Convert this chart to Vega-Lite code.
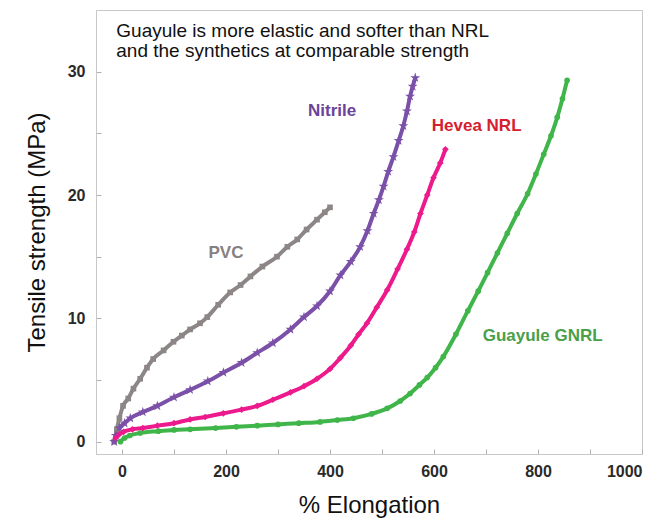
{
  "$schema": "https://vega.github.io/schema/vega-lite/v6.json",
  "width": 546,
  "height": 444,
  "autosize": {"type": "none"},
  "padding": {"left": 96, "top": 10, "right": 17, "bottom": 67},
  "background": "white",
  "config": {
    "view": {"stroke": "#c8c8c8", "strokeWidth": 1},
    "font": "Liberation Sans"
  },
  "datasets": {
    "curves": [
      {"material": "PVC", "x": -15, "y": 0.0},
      {"material": "PVC", "x": -10, "y": 1.0},
      {"material": "PVC", "x": -5, "y": 1.9},
      {"material": "PVC", "x": 2, "y": 2.9},
      {"material": "PVC", "x": 12, "y": 3.5},
      {"material": "PVC", "x": 22, "y": 4.3},
      {"material": "PVC", "x": 35, "y": 5.1},
      {"material": "PVC", "x": 48, "y": 6.0},
      {"material": "PVC", "x": 60, "y": 6.7},
      {"material": "PVC", "x": 80, "y": 7.4},
      {"material": "PVC", "x": 99, "y": 8.1},
      {"material": "PVC", "x": 115, "y": 8.6},
      {"material": "PVC", "x": 131, "y": 9.1},
      {"material": "PVC", "x": 150, "y": 9.6},
      {"material": "PVC", "x": 164, "y": 10.1},
      {"material": "PVC", "x": 185, "y": 11.1},
      {"material": "PVC", "x": 208, "y": 12.1},
      {"material": "PVC", "x": 228, "y": 12.7},
      {"material": "PVC", "x": 247, "y": 13.4},
      {"material": "PVC", "x": 270, "y": 14.2},
      {"material": "PVC", "x": 298, "y": 15.0},
      {"material": "PVC", "x": 318, "y": 15.8},
      {"material": "PVC", "x": 337, "y": 16.4},
      {"material": "PVC", "x": 355, "y": 17.2},
      {"material": "PVC", "x": 375, "y": 18.0},
      {"material": "PVC", "x": 390, "y": 18.6},
      {"material": "PVC", "x": 400, "y": 19.0},
      {"material": "Nitrile", "x": -15, "y": 0.0},
      {"material": "Nitrile", "x": -12, "y": 0.5},
      {"material": "Nitrile", "x": -5, "y": 1.1},
      {"material": "Nitrile", "x": 5, "y": 1.5},
      {"material": "Nitrile", "x": 16, "y": 1.9},
      {"material": "Nitrile", "x": 40, "y": 2.4},
      {"material": "Nitrile", "x": 68, "y": 2.9},
      {"material": "Nitrile", "x": 100, "y": 3.6},
      {"material": "Nitrile", "x": 131, "y": 4.2},
      {"material": "Nitrile", "x": 165, "y": 4.9},
      {"material": "Nitrile", "x": 195, "y": 5.6},
      {"material": "Nitrile", "x": 230, "y": 6.4},
      {"material": "Nitrile", "x": 260, "y": 7.2},
      {"material": "Nitrile", "x": 290, "y": 8.0},
      {"material": "Nitrile", "x": 324, "y": 9.1},
      {"material": "Nitrile", "x": 350, "y": 10.1},
      {"material": "Nitrile", "x": 375, "y": 11.0},
      {"material": "Nitrile", "x": 400, "y": 12.2},
      {"material": "Nitrile", "x": 420, "y": 13.5},
      {"material": "Nitrile", "x": 440, "y": 14.6},
      {"material": "Nitrile", "x": 458, "y": 15.8},
      {"material": "Nitrile", "x": 472, "y": 17.1},
      {"material": "Nitrile", "x": 484, "y": 18.5},
      {"material": "Nitrile", "x": 494, "y": 19.6},
      {"material": "Nitrile", "x": 503, "y": 20.7},
      {"material": "Nitrile", "x": 512, "y": 21.9},
      {"material": "Nitrile", "x": 522, "y": 23.1},
      {"material": "Nitrile", "x": 532, "y": 24.4},
      {"material": "Nitrile", "x": 541, "y": 25.6},
      {"material": "Nitrile", "x": 548, "y": 26.8},
      {"material": "Nitrile", "x": 554, "y": 28.0},
      {"material": "Nitrile", "x": 559, "y": 28.8},
      {"material": "Nitrile", "x": 564, "y": 29.5},
      {"material": "Hevea NRL", "x": -12, "y": 0.3},
      {"material": "Hevea NRL", "x": -5, "y": 0.6},
      {"material": "Hevea NRL", "x": 3, "y": 0.8},
      {"material": "Hevea NRL", "x": 20, "y": 1.0},
      {"material": "Hevea NRL", "x": 40, "y": 1.1},
      {"material": "Hevea NRL", "x": 68, "y": 1.3},
      {"material": "Hevea NRL", "x": 100, "y": 1.5},
      {"material": "Hevea NRL", "x": 131, "y": 1.8},
      {"material": "Hevea NRL", "x": 160, "y": 2.0},
      {"material": "Hevea NRL", "x": 195, "y": 2.3},
      {"material": "Hevea NRL", "x": 230, "y": 2.6},
      {"material": "Hevea NRL", "x": 260, "y": 2.9},
      {"material": "Hevea NRL", "x": 290, "y": 3.4},
      {"material": "Hevea NRL", "x": 324, "y": 4.0},
      {"material": "Hevea NRL", "x": 350, "y": 4.5},
      {"material": "Hevea NRL", "x": 375, "y": 5.1},
      {"material": "Hevea NRL", "x": 400, "y": 5.9},
      {"material": "Hevea NRL", "x": 420, "y": 6.8},
      {"material": "Hevea NRL", "x": 440, "y": 7.8},
      {"material": "Hevea NRL", "x": 455, "y": 8.7},
      {"material": "Hevea NRL", "x": 471, "y": 9.6},
      {"material": "Hevea NRL", "x": 490, "y": 10.9},
      {"material": "Hevea NRL", "x": 510, "y": 12.3},
      {"material": "Hevea NRL", "x": 530, "y": 14.0},
      {"material": "Hevea NRL", "x": 548, "y": 15.6},
      {"material": "Hevea NRL", "x": 562, "y": 17.0},
      {"material": "Hevea NRL", "x": 574, "y": 18.5},
      {"material": "Hevea NRL", "x": 587, "y": 20.0},
      {"material": "Hevea NRL", "x": 599, "y": 21.4},
      {"material": "Hevea NRL", "x": 612, "y": 22.6},
      {"material": "Hevea NRL", "x": 622, "y": 23.7},
      {"material": "Guayule GNRL", "x": -3, "y": 0.0},
      {"material": "Guayule GNRL", "x": 5, "y": 0.3},
      {"material": "Guayule GNRL", "x": 15, "y": 0.5},
      {"material": "Guayule GNRL", "x": 35, "y": 0.7},
      {"material": "Guayule GNRL", "x": 70, "y": 0.85},
      {"material": "Guayule GNRL", "x": 100, "y": 0.95},
      {"material": "Guayule GNRL", "x": 131, "y": 1.0},
      {"material": "Guayule GNRL", "x": 180, "y": 1.1},
      {"material": "Guayule GNRL", "x": 220, "y": 1.2},
      {"material": "Guayule GNRL", "x": 260, "y": 1.3},
      {"material": "Guayule GNRL", "x": 300, "y": 1.4},
      {"material": "Guayule GNRL", "x": 340, "y": 1.5},
      {"material": "Guayule GNRL", "x": 381, "y": 1.6},
      {"material": "Guayule GNRL", "x": 414, "y": 1.75},
      {"material": "Guayule GNRL", "x": 445, "y": 1.9},
      {"material": "Guayule GNRL", "x": 480, "y": 2.25},
      {"material": "Guayule GNRL", "x": 510, "y": 2.7},
      {"material": "Guayule GNRL", "x": 535, "y": 3.3},
      {"material": "Guayule GNRL", "x": 554, "y": 3.9},
      {"material": "Guayule GNRL", "x": 572, "y": 4.6},
      {"material": "Guayule GNRL", "x": 587, "y": 5.2},
      {"material": "Guayule GNRL", "x": 603, "y": 6.0},
      {"material": "Guayule GNRL", "x": 618, "y": 6.9},
      {"material": "Guayule GNRL", "x": 642, "y": 8.7},
      {"material": "Guayule GNRL", "x": 665, "y": 10.6},
      {"material": "Guayule GNRL", "x": 685, "y": 12.2},
      {"material": "Guayule GNRL", "x": 703, "y": 13.7},
      {"material": "Guayule GNRL", "x": 722, "y": 15.3},
      {"material": "Guayule GNRL", "x": 741, "y": 16.9},
      {"material": "Guayule GNRL", "x": 760, "y": 18.5},
      {"material": "Guayule GNRL", "x": 780, "y": 20.1},
      {"material": "Guayule GNRL", "x": 796, "y": 21.7},
      {"material": "Guayule GNRL", "x": 811, "y": 23.3},
      {"material": "Guayule GNRL", "x": 825, "y": 24.8},
      {"material": "Guayule GNRL", "x": 837, "y": 26.3},
      {"material": "Guayule GNRL", "x": 847, "y": 27.8},
      {"material": "Guayule GNRL", "x": 856, "y": 29.3}
    ],
    "labels": [
      {"series": "PVC", "x": 200, "y": 15.3, "text": "PVC"},
      {"series": "Nitrile", "x": 404, "y": 26.8, "text": "Nitrile"},
      {"series": "Hevea NRL", "x": 682, "y": 25.6, "text": "Hevea NRL"},
      {"series": "Guayule GNRL", "x": 809, "y": 8.6, "text": "Guayule GNRL"}
    ],
    "notes": [
      {"x": -11, "y": 32.84, "text": "Guayule is more elastic and softer than NRL"},
      {"x": -11, "y": 31.22, "text": "and the synthetics at comparable strength"}
    ]
  },
  "layer": [
    {
      "data": {"name": "curves"},
      "mark": {"type": "line", "strokeWidth": 4, "interpolate": "monotone", "clip": true},
      "encoding": {
        "x": {
          "field": "x", "type": "quantitative",
          "scale": {"domain": [-50, 1000], "nice": false, "zero": false},
          "axis": {
            "title": "% Elongation",
            "values": [0, 100, 200, 300, 400, 500, 600, 700, 800, 900, 1000],
            "format": "d",
            "labelExpr": "datum.value % 200 == 0 ? datum.label : ''",
            "grid": false,
            "domainColor": "#c8c8c8",
            "tickColor": "#b0b0b0",
            "tickSize": -5,
            "labelPadding": 14,
            "labelFont": "Liberation Sans",
            "labelFontWeight": "bold",
            "labelFontSize": 16,
            "labelColor": "#2a2a2a",
            "titleFont": "Liberation Sans",
            "titleFontWeight": "normal",
            "titleFontSize": 24,
            "titleColor": "#111111",
            "titlePadding": 14
          }
        },
        "y": {
          "field": "y", "type": "quantitative",
          "scale": {"domain": [-1, 35], "nice": false, "zero": false},
          "axis": {
            "title": "Tensile strength (MPa)",
            "values": [0, 5, 10, 15, 20, 25, 30],
            "labelExpr": "datum.value % 10 == 0 ? datum.label : ''",
            "grid": false,
            "domainColor": "#c8c8c8",
            "tickColor": "#b0b0b0",
            "tickSize": -5,
            "labelPadding": 16,
            "labelFont": "Liberation Sans",
            "labelFontWeight": "bold",
            "labelFontSize": 16,
            "labelColor": "#2a2a2a",
            "titleFont": "Liberation Sans",
            "titleFontWeight": "normal",
            "titleFontSize": 24,
            "titleColor": "#111111",
            "titlePadding": 18
          }
        },
        "color": {
          "field": "material", "type": "nominal",
          "scale": {
            "domain": ["PVC", "Nitrile", "Hevea NRL", "Guayule GNRL"],
            "range": ["#8d8686", "#7b50a8", "#ec1a8c", "#3fb54a"]
          },
          "legend": null
        }
      }
    },
    {
      "data": {"name": "curves"},
      "transform": [{"filter": "datum.material === 'PVC'"}],
      "mark": {"type": "point", "filled": true, "opacity": 1, "shape": "square", "size": 32, "color": "#8d8686"},
      "encoding": {
        "x": {"field": "x", "type": "quantitative"},
        "y": {"field": "y", "type": "quantitative"}
      }
    },
    {
      "data": {"name": "curves"},
      "transform": [{"filter": "datum.material === 'Nitrile'"}],
      "mark": {"type": "point", "filled": true, "opacity": 1, "shape": "M0,-1L0.2245,-0.309L0.951,-0.309L0.363,0.118L0.588,0.809L0,0.382L-0.588,0.809L-0.363,0.118L-0.951,-0.309L-0.2245,-0.309Z", "size": 110, "color": "#7b50a8"},
      "encoding": {
        "x": {"field": "x", "type": "quantitative"},
        "y": {"field": "y", "type": "quantitative"}
      }
    },
    {
      "data": {"name": "curves"},
      "transform": [{"filter": "datum.material === 'Hevea NRL'"}],
      "mark": {"type": "point", "filled": true, "opacity": 1, "shape": "diamond", "size": 45, "color": "#ec1a8c"},
      "encoding": {
        "x": {"field": "x", "type": "quantitative"},
        "y": {"field": "y", "type": "quantitative"}
      }
    },
    {
      "data": {"name": "curves"},
      "transform": [{"filter": "datum.material === 'Guayule GNRL'"}],
      "mark": {"type": "point", "filled": true, "opacity": 1, "shape": "circle", "size": 32, "color": "#3fb54a"},
      "encoding": {
        "x": {"field": "x", "type": "quantitative"},
        "y": {"field": "y", "type": "quantitative"}
      }
    },
    {
      "data": {"name": "labels"},
      "mark": {"type": "text", "font": "Liberation Sans", "fontWeight": "bold", "fontSize": 17, "align": "center", "baseline": "middle"},
      "encoding": {
        "x": {"field": "x", "type": "quantitative"},
        "y": {"field": "y", "type": "quantitative"},
        "text": {"field": "text"},
        "color": {
          "field": "series", "type": "nominal",
          "scale": {
            "domain": ["PVC", "Nitrile", "Hevea NRL", "Guayule GNRL"],
            "range": ["#868080", "#6c4399", "#d42030", "#4aa049"]
          },
          "legend": null
        }
      }
    },
    {
      "data": {"name": "notes"},
      "mark": {"type": "text", "font": "Liberation Sans", "fontSize": 19, "align": "left", "baseline": "alphabetic", "color": "#111111"},
      "encoding": {
        "x": {"field": "x", "type": "quantitative"},
        "y": {"field": "y", "type": "quantitative"},
        "text": {"field": "text"}
      }
    }
  ],
  "resolve": {"scale": {"color": "independent"}}
}
